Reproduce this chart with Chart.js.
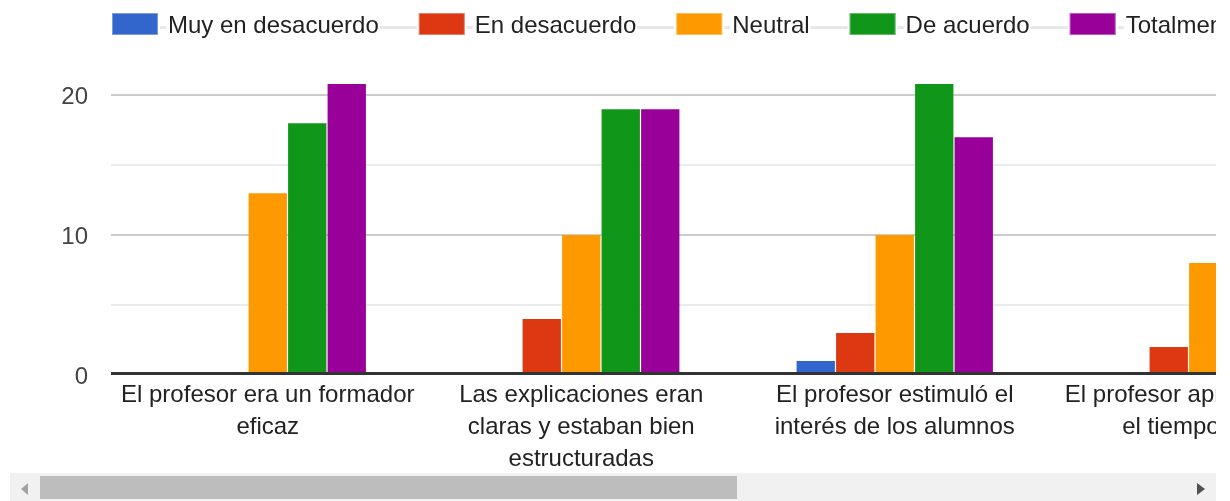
<!DOCTYPE html>
<html>
<head>
<meta charset="utf-8">
<script src="https://cdn.jsdelivr.net/npm/chart.js@4.4.1/dist/chart.umd.min.js"></script>
<style>
  body { margin: 0; background: #fff; }
  #wrap { position: absolute; left: 0; top: 0; width: 1216px; height: 473px; overflow: hidden; }
  #bar_canvas { display: block; }
  /* fake horizontal scrollbar under the chart */
  .track { position: absolute; left: 10px; top: 473px; width: 1206px; height: 28px; background: #f1f1f1; }
  .thumb { position: absolute; left: 30px; top: 3px; width: 697px; height: 23px; background: #bdbdbd; }
  .arrow-left { position: absolute; left: 11px; top: 10px; width: 0; height: 0;
    border-top: 6px solid transparent; border-bottom: 6px solid transparent; border-right: 7px solid #a3a3a3; }
  .arrow-right { position: absolute; left: 1187px; top: 10px; width: 0; height: 0;
    border-top: 6px solid transparent; border-bottom: 6px solid transparent; border-left: 8px solid #505050; }
</style>
</head>
<body>
<div id="wrap"><canvas id="bar_canvas" width="1365" height="473"></canvas></div>
<div class="track">
  <div class="arrow-left"></div>
  <div class="thumb"></div>
  <div class="arrow-right"></div>
</div>
<script>
// question labels (already wrapped like the original)
const categories = [
  ["El profesor era un formador", "eficaz"],
  ["Las explicaciones eran", "claras y estaban bien", "estructuradas"],
  ["El profesor estimuló el", "interés de los alumnos"],
  ["El profesor aprovechó bien", "el tiempo lectivo"]
];
const seriesNames = ["Muy en desacuerdo", "En desacuerdo", "Neutral", "De acuerdo", "Totalmente de acuerdo"];
const seriesColors = ["#3366cc", "#dc3912", "#ff9900", "#109618", "#990099"];

// answer counts per question (last question is cut off by the scroll view)
const muyDesacuerdo = [0, 0, 1, 0];
const enDesacuerdo = [0, 4, 3, 2];
const neutral = [13, 10, 10, 8];
const deAcuerdo = [18, 19, 21, null];
const totalmente = [21, 19, 17, null];

const yTicks = [0, 5, 10, 15, 20];
const yLabels = [0, 10, 20];

Chart.defaults.font.family = '"Liberation Sans", Arial, sans-serif';

const seriesValues = [muyDesacuerdo, enDesacuerdo, neutral, deAcuerdo, totalmente];
const datasets = seriesNames.map(function (name, i) {
  return {
    label: name,
    data: seriesValues[i],
    backgroundColor: seriesColors[i],
    borderWidth: 0,
    clip: 0,
    categoryPercentage: 0.63,
    barPercentage: 0.97
  };
});

// google style legend: grey line behind the items
const legendPlugin = {
  id: 'googleLegend',
  afterDraw(chart) {
    const ctx = chart.ctx;
    ctx.save();
    ctx.font = '24px "Liberation Sans", Arial, sans-serif';
    ctx.textBaseline = 'alphabetic';
    let x = 112;
    const items = [];
    chart.data.datasets.forEach(function (ds) {
      const w = ctx.measureText(ds.label).width;
      items.push({ x: x, tx: x + 56, w: w, label: ds.label, color: ds.backgroundColor });
      x = x + 56 + w + 40;
    });
    ctx.fillStyle = '#e8e8e8';
    ctx.fillRect(112, 26, chart.width - 112, 3);
    items.forEach(function (it) {
      ctx.fillStyle = '#fff';
      ctx.fillRect(it.x - 2, 12, 50, 25);
      ctx.fillRect(it.tx - 2, 12, it.w + 3, 25);
      ctx.fillStyle = it.color;
      ctx.fillRect(it.x, 13, 46, 22);
      ctx.strokeStyle = 'rgba(255,255,255,0.35)';
      ctx.lineWidth = 1;
      ctx.strokeRect(it.x + 0.5, 13.5, 45, 21);
      ctx.fillStyle = '#222';
      ctx.fillText(it.label, it.tx, 33);
    });
    ctx.restore();
  }
};

// dark baseline drawn over the bars
const baselinePlugin = {
  id: 'baseline',
  afterDatasetsDraw(chart) {
    const ctx = chart.ctx;
    const area = chart.chartArea;
    const y0 = chart.scales.y.getPixelForValue(0);
    ctx.save();
    ctx.fillStyle = '#333';
    ctx.fillRect(area.left, y0 - 3, area.right - area.left, 3);
    ctx.restore();
  }
};

const ctx = document.getElementById('bar_canvas');
const myChart = new Chart(ctx, {
  type: 'bar',
  data: {
    labels: categories,
    datasets: datasets
  },
  options: {
    responsive: false,
    animation: false,
    layout: { padding: { top: 84, left: 0, right: 0, bottom: 0 } },
    plugins: {
      legend: { display: false },
      tooltip: { enabled: false }
    },
    scales: {
      x: {
        grid: { display: false, drawTicks: false },
        border: { display: false },
        ticks: {
          color: '#222',
          padding: 4,
          maxRotation: 0,
          autoSkip: false,
          font: { size: 24, lineHeight: 1.333 }
        },
        afterFit(scale) { scale.height = 98; }
      },
      y: {
        min: 0,
        max: 20.8,
        border: { display: false },
        grid: {
          drawTicks: false,
          lineWidth: 2,
          color: function (c) {
            if (!c.tick || c.tick.value === 0) return 'rgba(0,0,0,0)';
            return c.tick.value % 10 === 0 ? '#cccccc' : '#ebebeb';
          }
        },
        ticks: {
          color: '#444',
          padding: 23,
          labelOffset: 2,
          font: { size: 24 },
          callback: function (v) { return yLabels.indexOf(v) >= 0 ? String(v) : ''; }
        },
        afterBuildTicks(scale) {
          scale.ticks = yTicks.map(function (v) { return { value: v }; });
        },
        afterFit(scale) { scale.width = 111; }
      }
    }
  },
  plugins: [legendPlugin, baselinePlugin]
});
</script>
</body>
</html>
